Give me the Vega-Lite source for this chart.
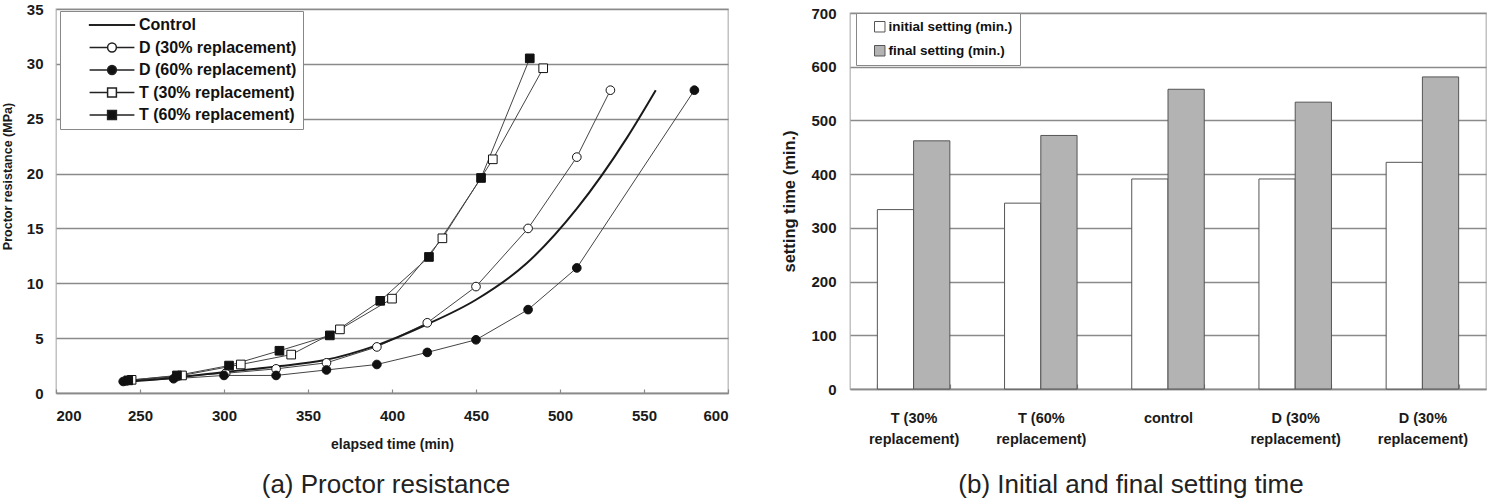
{
  "$schema": "https://vega.github.io/schema/vega-lite/v6.json",
  "background": "white",
  "padding": {"left": 0, "top": 1, "right": 6, "bottom": 2},
  "bounds": "flush",
  "center": true,
  "spacing": 122,
  "resolve": {
    "scale": {"fill": "independent", "shape": "independent"},
    "legend": {"fill": "independent", "shape": "independent"}
  },
  "config": {
    "font": "Liberation Sans",
    "view": {"stroke": "#b8b8b8", "strokeWidth": 1.3},
    "axis": {
      "labelFont": "Liberation Sans",
      "labelFontWeight": "bold",
      "labelColor": "#1a1a1a",
      "titleFont": "Liberation Sans",
      "titleFontWeight": "bold",
      "titleColor": "#1a1a1a",
      "gridColor": "#8a8a8a",
      "gridWidth": 1.3,
      "domainColor": "#8a8a8a",
      "domainWidth": 1.3,
      "tickColor": "#8a8a8a",
      "tickWidth": 1.2
    },
    "title": {
      "font": "Liberation Sans",
      "fontWeight": "normal",
      "fontSize": 26,
      "color": "#222222",
      "orient": "bottom",
      "anchor": "middle"
    }
  },
  "datasets": {
    "proctor": [
      {"series": "Control", "time": 240, "mpa": 1.0},
      {"series": "Control", "time": 270, "mpa": 1.4},
      {"series": "Control", "time": 300, "mpa": 1.9},
      {"series": "Control", "time": 330, "mpa": 2.4},
      {"series": "Control", "time": 360, "mpa": 3.0},
      {"series": "Control", "time": 390, "mpa": 4.3},
      {"series": "Control", "time": 420, "mpa": 6.2},
      {"series": "Control", "time": 450, "mpa": 8.5},
      {"series": "Control", "time": 480, "mpa": 11.8},
      {"series": "Control", "time": 510, "mpa": 16.8},
      {"series": "Control", "time": 540, "mpa": 23.3},
      {"series": "Control", "time": 557, "mpa": 27.6},
      {"series": "D (30% replacement)", "time": 242, "mpa": 1.1},
      {"series": "D (30% replacement)", "time": 272, "mpa": 1.5},
      {"series": "D (30% replacement)", "time": 301, "mpa": 1.8},
      {"series": "D (30% replacement)", "time": 331, "mpa": 2.2},
      {"series": "D (30% replacement)", "time": 361, "mpa": 2.75},
      {"series": "D (30% replacement)", "time": 391, "mpa": 4.2},
      {"series": "D (30% replacement)", "time": 421, "mpa": 6.4},
      {"series": "D (30% replacement)", "time": 450, "mpa": 9.7},
      {"series": "D (30% replacement)", "time": 481, "mpa": 15.0},
      {"series": "D (30% replacement)", "time": 510, "mpa": 21.5},
      {"series": "D (30% replacement)", "time": 530, "mpa": 27.6},
      {"series": "D (60% replacement)", "time": 240, "mpa": 1.05},
      {"series": "D (60% replacement)", "time": 270, "mpa": 1.3},
      {"series": "D (60% replacement)", "time": 300, "mpa": 1.6},
      {"series": "D (60% replacement)", "time": 331, "mpa": 1.6},
      {"series": "D (60% replacement)", "time": 361, "mpa": 2.1},
      {"series": "D (60% replacement)", "time": 391, "mpa": 2.6},
      {"series": "D (60% replacement)", "time": 421, "mpa": 3.7},
      {"series": "D (60% replacement)", "time": 450, "mpa": 4.85},
      {"series": "D (60% replacement)", "time": 481, "mpa": 7.6},
      {"series": "D (60% replacement)", "time": 510, "mpa": 11.4},
      {"series": "D (60% replacement)", "time": 580, "mpa": 27.6},
      {"series": "T (30% replacement)", "time": 245, "mpa": 1.2},
      {"series": "T (30% replacement)", "time": 275, "mpa": 1.6},
      {"series": "T (30% replacement)", "time": 310, "mpa": 2.6},
      {"series": "T (30% replacement)", "time": 340, "mpa": 3.5},
      {"series": "T (30% replacement)", "time": 369, "mpa": 5.8},
      {"series": "T (30% replacement)", "time": 400, "mpa": 8.6},
      {"series": "T (30% replacement)", "time": 430, "mpa": 14.1},
      {"series": "T (30% replacement)", "time": 460, "mpa": 21.3},
      {"series": "T (30% replacement)", "time": 490, "mpa": 29.6},
      {"series": "T (60% replacement)", "time": 243, "mpa": 1.15},
      {"series": "T (60% replacement)", "time": 272, "mpa": 1.6},
      {"series": "T (60% replacement)", "time": 303, "mpa": 2.5},
      {"series": "T (60% replacement)", "time": 333, "mpa": 3.85},
      {"series": "T (60% replacement)", "time": 363, "mpa": 5.25},
      {"series": "T (60% replacement)", "time": 393, "mpa": 8.4},
      {"series": "T (60% replacement)", "time": 422, "mpa": 12.4},
      {"series": "T (60% replacement)", "time": 453, "mpa": 19.6},
      {"series": "T (60% replacement)", "time": 482, "mpa": 30.5}
    ],
    "setting": [
      {"mix": "T30", "stage": "initial setting (min.)", "minutes": 334},
      {"mix": "T30", "stage": "final setting (min.)", "minutes": 462},
      {"mix": "T60", "stage": "initial setting (min.)", "minutes": 346},
      {"mix": "T60", "stage": "final setting (min.)", "minutes": 472},
      {"mix": "control", "stage": "initial setting (min.)", "minutes": 391},
      {"mix": "control", "stage": "final setting (min.)", "minutes": 558},
      {"mix": "D30", "stage": "initial setting (min.)", "minutes": 391},
      {"mix": "D30", "stage": "final setting (min.)", "minutes": 534},
      {"mix": "D60", "stage": "initial setting (min.)", "minutes": 422},
      {"mix": "D60", "stage": "final setting (min.)", "minutes": 581}
    ]
  },
  "hconcat": [
    {
      "width": 672,
      "height": 384,
      "data": {"name": "proctor"},
      "title": {"text": "(a) Proctor resistance", "offset": 21, "dx": -6},
      "encoding": {
        "x": {
          "field": "time",
          "type": "quantitative",
          "scale": {"domain": [200, 600], "nice": false, "zero": false},
          "axis": {
            "values": [200, 250, 300, 350, 400, 450, 500, 550, 600],
            "grid": false,
            "tickSize": -4,
            "labelPadding": 19,
            "labelFontSize": 15,
            "title": "elapsed time (min)",
            "titleFontSize": 14,
            "titlePadding": 14
          }
        },
        "y": {
          "field": "mpa",
          "type": "quantitative",
          "scale": {"domain": [0, 35], "nice": false},
          "axis": {
            "values": [0, 5, 10, 15, 20, 25, 30, 35],
            "grid": true,
            "domain": false,
            "ticks": false,
            "labelPadding": 13,
            "labelFontSize": 15,
            "title": "Proctor resistance (MPa)",
            "titleFontSize": 12.5,
            "titlePadding": 12,
            "titleY": 167
          }
        }
      },
      "resolve": {
        "scale": {"shape": "independent", "fill": "independent"},
        "legend": {"shape": "independent", "fill": "independent"}
      },
      "layer": [
        {
          "transform": [{"filter": "datum.series !== 'Control'"}],
          "mark": {"type": "line", "stroke": "#444444", "strokeWidth": 1},
          "encoding": {"detail": {"field": "series"}}
        },
        {
          "transform": [{"filter": "datum.series === 'Control'"}],
          "mark": {"type": "line", "interpolate": "monotone", "stroke": "#1a1a1a", "strokeWidth": 2},
          "encoding": {}
        },
        {
          "transform": [{"filter": "datum.series !== 'Control'"}],
          "mark": {"type": "point", "filled": true, "stroke": "#111111", "strokeWidth": 1, "size": 75, "opacity": 1},
          "encoding": {
            "shape": {
              "field": "series",
              "type": "nominal",
              "scale": {
                "domain": ["Control", "D (30% replacement)", "D (60% replacement)", "T (30% replacement)", "T (60% replacement)"],
                "range": ["circle", "circle", "circle", "square", "square"]
              },
              "legend": null
            },
            "fill": {
              "field": "series",
              "type": "nominal",
              "scale": {
                "domain": ["Control", "D (30% replacement)", "D (60% replacement)", "T (30% replacement)", "T (60% replacement)"],
                "range": ["#1a1a1a", "white", "#111111", "white", "#111111"]
              },
              "legend": null
            }
          }
        },
        {
          "transform": [{"filter": "false"}],
          "mark": {"type": "point", "filled": true, "stroke": "#222222", "strokeWidth": 1, "size": 64, "opacity": 1},
          "encoding": {
            "shape": {
              "field": "series",
              "type": "nominal",
              "scale": {
                "domain": ["Control", "D (30% replacement)", "D (60% replacement)", "T (30% replacement)", "T (60% replacement)"],
                "range": [
                  "M-5.6,-0.07H5.6V0.07H-5.6Z",
                  "M-5.6,0H-1.1M1.1,0H5.6M-1.1,0A1.1,1.1 0 1,1 1.1,0A1.1,1.1 0 1,1 -1.1,0Z",
                  "M-5.6,0H-1.1M1.1,0H5.6M-1.1,0A1.1,1.1 0 1,1 1.1,0A1.1,1.1 0 1,1 -1.1,0Z",
                  "M-5.6,0H-1.1M1.1,0H5.6M-1.1,-1.1H1.1V1.1H-1.1Z",
                  "M-5.6,0H-1.1M1.1,0H5.6M-1.1,-1.1H1.1V1.1H-1.1Z"
                ]
              },
              "legend": {
                "title": null,
                "orient": "none",
                "legendX": 4,
                "legendY": 2,
                "padding": 6,
                "strokeColor": "#888888",
                "fillColor": "white",
                "labelFont": "Liberation Sans",
                "labelFontSize": 16,
                "labelFontWeight": "bold",
                "labelColor": "#111111",
                "symbolSize": 64,
                "symbolOffset": 38,
                "labelOffset": 19,
                "rowPadding": 6.5
              }
            },
            "fill": {
              "field": "series",
              "type": "nominal",
              "scale": {
                "domain": ["Control", "D (30% replacement)", "D (60% replacement)", "T (30% replacement)", "T (60% replacement)"],
                "range": ["#1a1a1a", "white", "#111111", "white", "#111111"]
              },
              "legend": {
                "title": null,
                "orient": "none",
                "legendX": 4,
                "legendY": 2,
                "padding": 6,
                "strokeColor": "#888888",
                "fillColor": "white",
                "labelFont": "Liberation Sans",
                "labelFontSize": 16,
                "labelFontWeight": "bold",
                "labelColor": "#111111",
                "symbolSize": 64,
                "symbolOffset": 38,
                "labelOffset": 19,
                "rowPadding": 6.5
              }
            }
          }
        }
      ]
    },
    {
      "width": 636,
      "height": 376,
      "data": {"name": "setting"},
      "title": {"text": "(b) Initial and final setting time", "offset": 26, "dx": -37},
      "mark": {"type": "bar", "stroke": "#555555", "strokeWidth": 1},
      "encoding": {
        "x": {
          "field": "mix",
          "type": "nominal",
          "sort": ["T30", "T60", "control", "D30", "D60"],
          "scale": {"paddingInner": 0.43, "paddingOuter": 0.215},
          "axis": {
            "title": null,
            "labelAngle": 0,
            "tickBand": "extent",
            "tickSize": -5,
            "labelPadding": 27,
            "labelFontSize": 14.5,
            "labelLineHeight": 21,
            "labelBaseline": "top",
            "labelExpr": "{'T30': ['T (30%', 'replacement)'], 'T60': ['T (60%', 'replacement)'], 'control': 'control', 'D30': ['D (30%', 'replacement)'], 'D60': ['D (30%', 'replacement)']}[datum.value]"
          }
        },
        "xOffset": {
          "field": "stage",
          "type": "nominal",
          "sort": ["initial setting (min.)", "final setting (min.)"],
          "scale": {"paddingInner": 0, "paddingOuter": 0}
        },
        "y": {
          "field": "minutes",
          "type": "quantitative",
          "scale": {"domain": [0, 700], "nice": false},
          "axis": {
            "values": [0, 100, 200, 300, 400, 500, 600, 700],
            "grid": true,
            "domain": false,
            "ticks": false,
            "labelPadding": 14,
            "labelFontSize": 15,
            "title": "setting time (min.)",
            "titleFontSize": 16.5,
            "titlePadding": 13
          }
        },
        "fill": {
          "field": "stage",
          "type": "nominal",
          "sort": ["initial setting (min.)", "final setting (min.)"],
          "scale": {"range": ["white", "#b3b3b3"]},
          "legend": {
            "title": null,
            "orient": "none",
            "legendX": 6,
            "legendY": 0,
            "padding": 7,
            "strokeColor": "#888888",
            "fillColor": "white",
            "symbolType": "square",
            "symbolSize": 110,
            "symbolStrokeColor": "#555555",
            "symbolStrokeWidth": 1,
            "symbolOffset": 10,
            "labelOffset": 2,
            "labelFont": "Liberation Sans",
            "labelFontSize": 13.5,
            "labelFontWeight": "bold",
            "labelColor": "#111111",
            "rowPadding": 9
          }
        }
      }
    }
  ]
}
